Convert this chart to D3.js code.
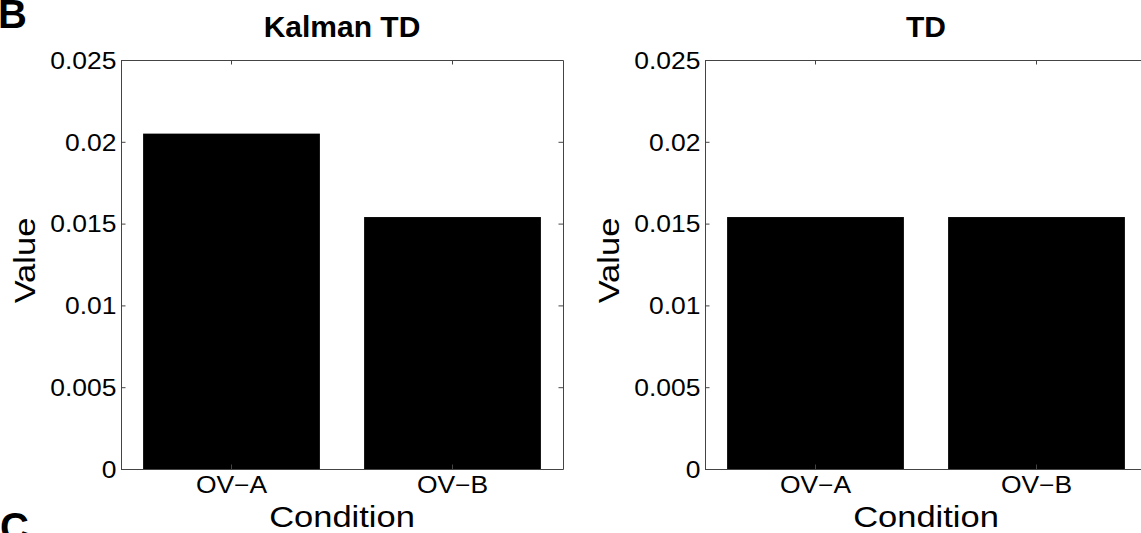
<!DOCTYPE html>
<html>
<head>
<meta charset="utf-8">
<script src="https://cdn.jsdelivr.net/npm/d3@7"></script>
<style>
  body { margin: 0; background: #fff; }
  svg { display: block; }
  text { font-family: "Liberation Sans", Arial, Helvetica, sans-serif; fill: #000; }
</style>
</head>
<body>
<svg width="1141" height="533"></svg>
<script>
// chart data
const categories = ['OV\u2212A', 'OV\u2212B']
const kalmanValues = [0.0205, 0.0154]
const tdValues = [0.0154, 0.0154]
const yTicks = [0, 0.005, 0.01, 0.015, 0.02, 0.025]
const yTickLabels = ['0', '0.005', '0.01', '0.015', '0.02', '0.025']
const titles = ['Kalman TD', 'TD']

const svg = d3.select('svg')
const stretch = 1.15   // the original labels are wider than Helvetica

const plotTop = 60, plotBottom = 469, plotW = 442
const panels = [
  { title: titles[0], values: kalmanValues, left: 121 },
  { title: titles[1], values: tdValues, left: 705 }
]

// panel letters
svg.append('text').attr('x', -2).attr('y', 28)
  .style('font-size', '40px').style('font-weight', 'bold').text('B')
svg.append('text').attr('x', 0).attr('y', 541)
  .style('font-size', '40px').style('font-weight', 'bold').text('C')

panels.forEach(p => {
  let x = d3.scaleBand()
    .domain(categories)
    .range([p.left, p.left + plotW])
    .paddingInner(0.2)
    .paddingOuter(0.1)

  let y = d3.scaleLinear()
    .domain([0, 0.025])
    .range([plotBottom, plotTop])

  let g = svg.append('g')

  // bars
  g.append('g')
    .selectAll('rect')
    .data(p.values)
    .enter().append('rect')
    .attr('x', (d, i) => x(categories[i]))
    .attr('width', x.bandwidth())
    .attr('y', d => y(d))
    .attr('height', d => y(0) - y(d))
    .attr('fill', '#000')

  // box with inward ticks
  let left = g.append('g')
    .attr('transform', `translate(${p.left},0)`)
    .call(d3.axisLeft(y).tickValues(yTicks)
      .tickFormat((d, i) => yTickLabels[i])
      .tickSizeInner(-4.5).tickSizeOuter(0).tickPadding(4))

  let bot = g.append('g')
    .attr('transform', `translate(0,${plotBottom})`)
    .call(d3.axisBottom(x).tickSizeInner(-4.5).tickSizeOuter(0).tickPadding(8))

  g.append('g')
    .attr('transform', `translate(0,${plotTop})`)
    .call(d3.axisTop(x).tickFormat('').tickSizeInner(-4.5).tickSizeOuter(0))

  g.append('g')
    .attr('transform', `translate(${p.left + plotW},0)`)
    .call(d3.axisRight(y).tickValues(yTicks).tickFormat('')
      .tickSizeInner(-4.5).tickSizeOuter(0))

  g.selectAll('.domain, .tick line').attr('stroke', '#444')

  left.selectAll('text')
    .attr('dy', '0.36em')
    .style('font-size', '23px')
    .style('font-family', '"Liberation Sans", Arial, sans-serif')
    .attr('transform', `scale(${stretch},1)`)

  bot.selectAll('text')
    .style('font-size', '23px')
    .style('font-family', '"Liberation Sans", Arial, sans-serif')
    .attr('transform', `scale(${stretch},1)`)

  let cx = p.left + plotW / 2

  // title
  svg.append('text')
    .attr('x', cx).attr('y', 37)
    .attr('text-anchor', 'middle')
    .style('font-size', '30px').style('font-weight', 'bold')
    .text(p.title)

  // x label
  svg.append('text')
    .attr('transform', `translate(${cx},527) scale(${stretch},1)`)
    .attr('text-anchor', 'middle')
    .style('font-size', '30px')
    .text('Condition')

  // y label
  svg.append('text')
    .attr('transform', `translate(${p.left - 86},${(plotTop + plotBottom) / 2 - 4}) rotate(-90) scale(${stretch},1)`)
    .attr('text-anchor', 'middle')
    .style('font-size', '30px')
    .text('Value')
})
</script>
</body>
</html>
